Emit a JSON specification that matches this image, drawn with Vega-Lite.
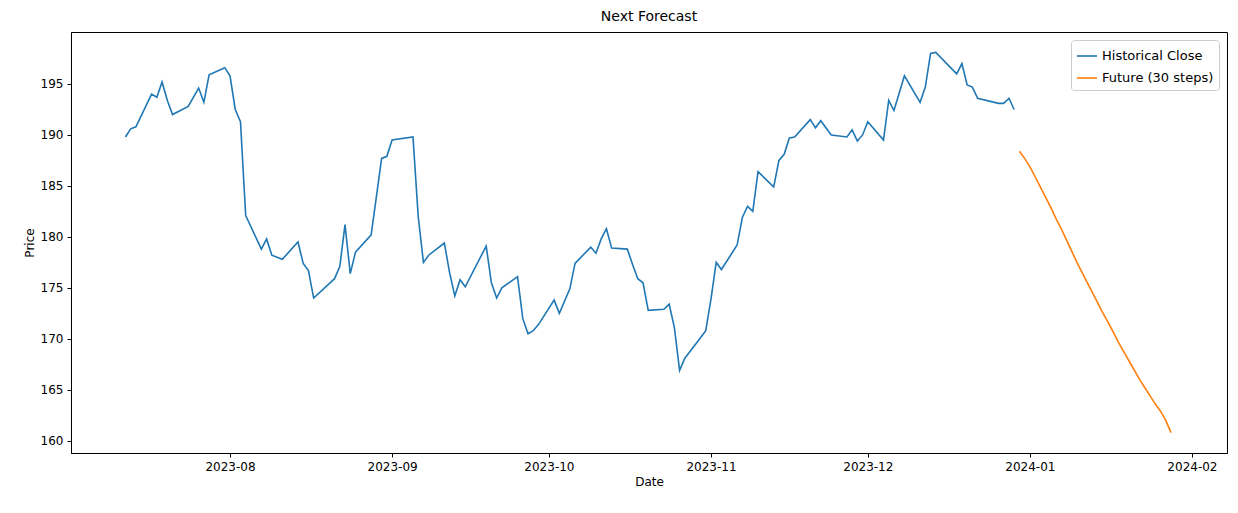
{
"$schema":"https://vega.github.io/schema/vega-lite/v6.json",
"width":1156,"height":421,"autosize":"none",
"padding":{"left":71,"top":32,"right":11,"bottom":60},
"background":"white",
"config":{"font":"DejaVu Sans","view":{"stroke":"black","strokeWidth":1},
"axis":{"grid":false,"domainColor":"black","tickColor":"black","labelColor":"black","titleColor":"black","labelFontSize":12,"titleFontSize":12,"titleFontWeight":"normal","tickSize":4,"labelPadding":4}},
"title":{"text":"Next Forecast","fontSize":14,"fontWeight":"normal","offset":8,"font":"DejaVu Sans"},
"data":{"values":[
{"series":"Historical Close","date":"2023-07-12","price":189.8},{"series":"Historical Close","date":"2023-07-13","price":190.6},{"series":"Historical Close","date":"2023-07-14","price":190.8},{"series":"Historical Close","date":"2023-07-17","price":194.0},{"series":"Historical Close","date":"2023-07-18","price":193.7},{"series":"Historical Close","date":"2023-07-19","price":195.2},{"series":"Historical Close","date":"2023-07-20","price":193.4},{"series":"Historical Close","date":"2023-07-21","price":192.0},{"series":"Historical Close","date":"2023-07-24","price":192.8},{"series":"Historical Close","date":"2023-07-26","price":194.6},{"series":"Historical Close","date":"2023-07-27","price":193.2},{"series":"Historical Close","date":"2023-07-28","price":195.9},{"series":"Historical Close","date":"2023-07-31","price":196.6},{"series":"Historical Close","date":"2023-08-01","price":195.8},{"series":"Historical Close","date":"2023-08-02","price":192.5},{"series":"Historical Close","date":"2023-08-03","price":191.3},{"series":"Historical Close","date":"2023-08-04","price":182.1},{"series":"Historical Close","date":"2023-08-07","price":178.8},{"series":"Historical Close","date":"2023-08-08","price":179.8},{"series":"Historical Close","date":"2023-08-09","price":178.2},{"series":"Historical Close","date":"2023-08-11","price":177.8},{"series":"Historical Close","date":"2023-08-14","price":179.5},{"series":"Historical Close","date":"2023-08-15","price":177.4},{"series":"Historical Close","date":"2023-08-16","price":176.7},{"series":"Historical Close","date":"2023-08-17","price":174.0},{"series":"Historical Close","date":"2023-08-21","price":175.9},{"series":"Historical Close","date":"2023-08-22","price":177.1},{"series":"Historical Close","date":"2023-08-23","price":181.2},{"series":"Historical Close","date":"2023-08-24","price":176.4},{"series":"Historical Close","date":"2023-08-25","price":178.5},{"series":"Historical Close","date":"2023-08-28","price":180.2},{"series":"Historical Close","date":"2023-08-30","price":187.7},{"series":"Historical Close","date":"2023-08-31","price":187.9},{"series":"Historical Close","date":"2023-09-01","price":189.5},{"series":"Historical Close","date":"2023-09-05","price":189.8},{"series":"Historical Close","date":"2023-09-06","price":182.0},{"series":"Historical Close","date":"2023-09-07","price":177.5},{"series":"Historical Close","date":"2023-09-08","price":178.2},{"series":"Historical Close","date":"2023-09-11","price":179.4},{"series":"Historical Close","date":"2023-09-12","price":176.5},{"series":"Historical Close","date":"2023-09-13","price":174.2},{"series":"Historical Close","date":"2023-09-14","price":175.8},{"series":"Historical Close","date":"2023-09-15","price":175.1},{"series":"Historical Close","date":"2023-09-19","price":179.1},{"series":"Historical Close","date":"2023-09-20","price":175.5},{"series":"Historical Close","date":"2023-09-21","price":174.0},{"series":"Historical Close","date":"2023-09-22","price":175.0},{"series":"Historical Close","date":"2023-09-25","price":176.1},{"series":"Historical Close","date":"2023-09-26","price":172.0},{"series":"Historical Close","date":"2023-09-27","price":170.5},{"series":"Historical Close","date":"2023-09-28","price":170.8},{"series":"Historical Close","date":"2023-09-29","price":171.4},{"series":"Historical Close","date":"2023-10-02","price":173.8},{"series":"Historical Close","date":"2023-10-03","price":172.5},{"series":"Historical Close","date":"2023-10-05","price":174.9},{"series":"Historical Close","date":"2023-10-06","price":177.4},{"series":"Historical Close","date":"2023-10-09","price":179.0},{"series":"Historical Close","date":"2023-10-10","price":178.4},{"series":"Historical Close","date":"2023-10-11","price":179.8},{"series":"Historical Close","date":"2023-10-12","price":180.8},{"series":"Historical Close","date":"2023-10-13","price":178.9},{"series":"Historical Close","date":"2023-10-16","price":178.8},{"series":"Historical Close","date":"2023-10-17","price":177.3},{"series":"Historical Close","date":"2023-10-18","price":175.9},{"series":"Historical Close","date":"2023-10-19","price":175.5},{"series":"Historical Close","date":"2023-10-20","price":172.8},{"series":"Historical Close","date":"2023-10-23","price":172.9},{"series":"Historical Close","date":"2023-10-24","price":173.4},{"series":"Historical Close","date":"2023-10-25","price":171.1},{"series":"Historical Close","date":"2023-10-26","price":166.9},{"series":"Historical Close","date":"2023-10-27","price":168.1},{"series":"Historical Close","date":"2023-10-30","price":170.1},{"series":"Historical Close","date":"2023-10-31","price":170.8},{"series":"Historical Close","date":"2023-11-01","price":173.9},{"series":"Historical Close","date":"2023-11-02","price":177.5},{"series":"Historical Close","date":"2023-11-03","price":176.8},{"series":"Historical Close","date":"2023-11-06","price":179.2},{"series":"Historical Close","date":"2023-11-07","price":181.9},{"series":"Historical Close","date":"2023-11-08","price":183.0},{"series":"Historical Close","date":"2023-11-09","price":182.5},{"series":"Historical Close","date":"2023-11-10","price":186.4},{"series":"Historical Close","date":"2023-11-13","price":184.9},{"series":"Historical Close","date":"2023-11-14","price":187.5},{"series":"Historical Close","date":"2023-11-15","price":188.1},{"series":"Historical Close","date":"2023-11-16","price":189.7},{"series":"Historical Close","date":"2023-11-17","price":189.8},{"series":"Historical Close","date":"2023-11-20","price":191.5},{"series":"Historical Close","date":"2023-11-21","price":190.7},{"series":"Historical Close","date":"2023-11-22","price":191.4},{"series":"Historical Close","date":"2023-11-24","price":190.0},{"series":"Historical Close","date":"2023-11-27","price":189.8},{"series":"Historical Close","date":"2023-11-28","price":190.5},{"series":"Historical Close","date":"2023-11-29","price":189.4},{"series":"Historical Close","date":"2023-11-30","price":190.0},{"series":"Historical Close","date":"2023-12-01","price":191.3},{"series":"Historical Close","date":"2023-12-04","price":189.5},{"series":"Historical Close","date":"2023-12-05","price":193.4},{"series":"Historical Close","date":"2023-12-06","price":192.4},{"series":"Historical Close","date":"2023-12-07","price":194.1},{"series":"Historical Close","date":"2023-12-08","price":195.8},{"series":"Historical Close","date":"2023-12-11","price":193.2},{"series":"Historical Close","date":"2023-12-12","price":194.7},{"series":"Historical Close","date":"2023-12-13","price":198.0},{"series":"Historical Close","date":"2023-12-14","price":198.1},{"series":"Historical Close","date":"2023-12-18","price":196.0},{"series":"Historical Close","date":"2023-12-19","price":197.0},{"series":"Historical Close","date":"2023-12-20","price":194.9},{"series":"Historical Close","date":"2023-12-21","price":194.7},{"series":"Historical Close","date":"2023-12-22","price":193.6},{"series":"Historical Close","date":"2023-12-26","price":193.1},{"series":"Historical Close","date":"2023-12-27","price":193.1},{"series":"Historical Close","date":"2023-12-28","price":193.6},{"series":"Historical Close","date":"2023-12-29","price":192.5},
{"series":"Future (30 steps)","date":"2023-12-30","price":188.4},{"series":"Future (30 steps)","date":"2023-12-31","price":187.7},{"series":"Future (30 steps)","date":"2024-01-01","price":186.9},{"series":"Future (30 steps)","date":"2024-01-02","price":185.9},{"series":"Future (30 steps)","date":"2024-01-03","price":184.9},{"series":"Future (30 steps)","date":"2024-01-04","price":183.9},{"series":"Future (30 steps)","date":"2024-01-05","price":182.9},{"series":"Future (30 steps)","date":"2024-01-06","price":181.8},{"series":"Future (30 steps)","date":"2024-01-07","price":180.8},{"series":"Future (30 steps)","date":"2024-01-08","price":179.7},{"series":"Future (30 steps)","date":"2024-01-09","price":178.6},{"series":"Future (30 steps)","date":"2024-01-10","price":177.5},{"series":"Future (30 steps)","date":"2024-01-11","price":176.5},{"series":"Future (30 steps)","date":"2024-01-12","price":175.5},{"series":"Future (30 steps)","date":"2024-01-13","price":174.5},{"series":"Future (30 steps)","date":"2024-01-14","price":173.5},{"series":"Future (30 steps)","date":"2024-01-15","price":172.5},{"series":"Future (30 steps)","date":"2024-01-16","price":171.6},{"series":"Future (30 steps)","date":"2024-01-17","price":170.6},{"series":"Future (30 steps)","date":"2024-01-18","price":169.6},{"series":"Future (30 steps)","date":"2024-01-19","price":168.7},{"series":"Future (30 steps)","date":"2024-01-20","price":167.8},{"series":"Future (30 steps)","date":"2024-01-21","price":166.9},{"series":"Future (30 steps)","date":"2024-01-22","price":166.0},{"series":"Future (30 steps)","date":"2024-01-23","price":165.2},{"series":"Future (30 steps)","date":"2024-01-24","price":164.4},{"series":"Future (30 steps)","date":"2024-01-25","price":163.6},{"series":"Future (30 steps)","date":"2024-01-26","price":162.9},{"series":"Future (30 steps)","date":"2024-01-27","price":162.0},{"series":"Future (30 steps)","date":"2024-01-28","price":160.8}
]},
"mark":{"type":"line","strokeWidth":1.6},
"encoding":{
"x":{"field":"date","type":"temporal","title":"Date","scale":{"domain":["2023-07-01T14:00:00","2024-02-07T17:00:00"]},"axis":{"format":"%Y-%m","tickCount":{"interval":"month","step":1},"labelFlush":false}},
"y":{"field":"price","type":"quantitative","title":"Price","scale":{"domain":[158.8,200.1],"nice":false,"zero":false},"axis":{"values":[160,165,170,175,180,185,190,195]}},
"color":{"field":"series","type":"nominal","scale":{"domain":["Historical Close","Future (30 steps)"],"range":["#1f77b4","#ff7f0e"]},
"legend":{"title":null,"orient":"top-right","offset":8,"symbolType":"stroke","symbolSize":400,"symbolStrokeWidth":1.6,"labelFontSize":13,"strokeColor":"#cccccc","fillColor":"white","padding":5,"cornerRadius":3,"rowPadding":4}}
}
}
